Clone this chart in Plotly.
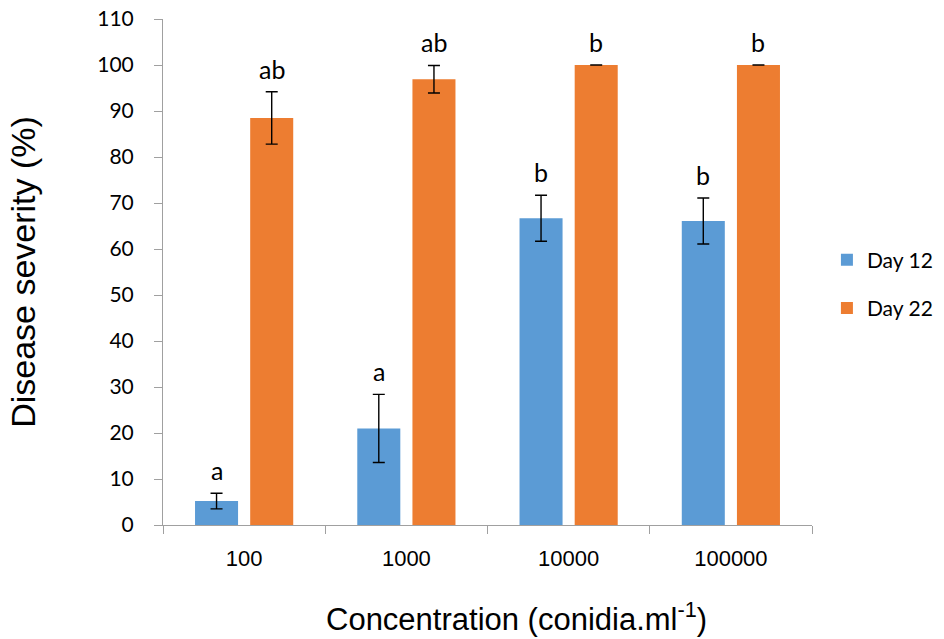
import plotly.graph_objects as go

concentrations = ["100", "1000", "10000", "100000"]
day12 = [5.2, 21.0, 66.7, 66.1]
day12_err = [1.7, 7.4, 5.0, 5.0]
day12_letters = ["a", "a", "b", "b"]
day22 = [88.5, 96.9, 100.0, 100.0]
day22_err = [5.7, 3.0, 0.0, 0.0]
day22_letters = ["ab", "ab", "b", "b"]

BLUE = "#5b9bd5"
ORANGE = "#ed7d31"
AXIS = "#a0a0a0"
LABEL_FONT = "Lato, Carlito, Calibri, sans-serif"
TITLE_FONT = "Liberation Sans, Arial, sans-serif"

fig = go.Figure()
for name, vals, errs, color, grp in [
    ("Day 12", day12, day12_err, BLUE, "g1"),
    ("Day 22", day22, day22_err, ORANGE, "g2"),
]:
    fig.add_trace(go.Bar(
        x=concentrations, y=vals, name=name, legendgroup=grp,
        marker=dict(color=color, line=dict(width=0)),
        error_y=dict(type="data", array=errs, visible=True,
                     color="black", thickness=1.4, width=6),
    ))

# significance letters above each bar's error bar (x given as category index)
for i in range(len(concentrations)):
    for vals, errs, letters, xshift in [
        (day12, day12_err, day12_letters, -27.5),
        (day22, day22_err, day22_letters, 27.5),
    ]:
        fig.add_annotation(
            x=i, y=vals[i] + errs[i], text=letters[i], showarrow=False,
            xshift=xshift, yshift=6, yanchor="bottom",
            font=dict(family=LABEL_FONT, size=25, color="black"),
        )

# x-axis title, set slightly right of the plot centre
fig.add_annotation(
    xref="paper", yref="paper", x=0.544, y=-0.182,
    xanchor="center", yanchor="middle", showarrow=False,
    text="Concentration (conidia.ml<sup>-1</sup>)",
    font=dict(family=TITLE_FONT, size=31, color="black"),
)

fig.update_layout(
    width=944, height=639,
    margin=dict(l=163, r=132, t=19, b=114, autoexpand=False),
    paper_bgcolor="white", plot_bgcolor="white",
    barmode="group", bargap=0.32, bargroupgap=0.22,
    showlegend=True,
    legend=dict(x=1.023, y=0.476, yanchor="middle", xanchor="left",
                tracegroupgap=18,
                font=dict(family=LABEL_FONT, size=21, color="black")),
    xaxis=dict(
        type="category", categoryorder="array", categoryarray=concentrations,
        range=[-0.5, len(concentrations) - 0.5], automargin=False,
        showline=True, linecolor=AXIS, linewidth=1,
        ticks="outside", tickson="boundaries", ticklen=8, tickcolor=AXIS,
        tickangle=0, ticklabelstandoff=14,
        tickfont=dict(family=TITLE_FONT, size=22, color="black"),
    ),
    yaxis=dict(
        range=[0, 110], dtick=10, showgrid=False, zeroline=False,
        automargin=False,
        showline=True, linecolor=AXIS, linewidth=1,
        ticks="outside", ticklen=8, tickcolor=AXIS, ticklabelstandoff=16,
        tickfont=dict(family=LABEL_FONT, size=21, color="black"),
        title=dict(text="Disease severity (%)",
                   font=dict(family=TITLE_FONT, size=34, color="black"),
                   standoff=51),
    ),
)

fig.write_html("out.html")
